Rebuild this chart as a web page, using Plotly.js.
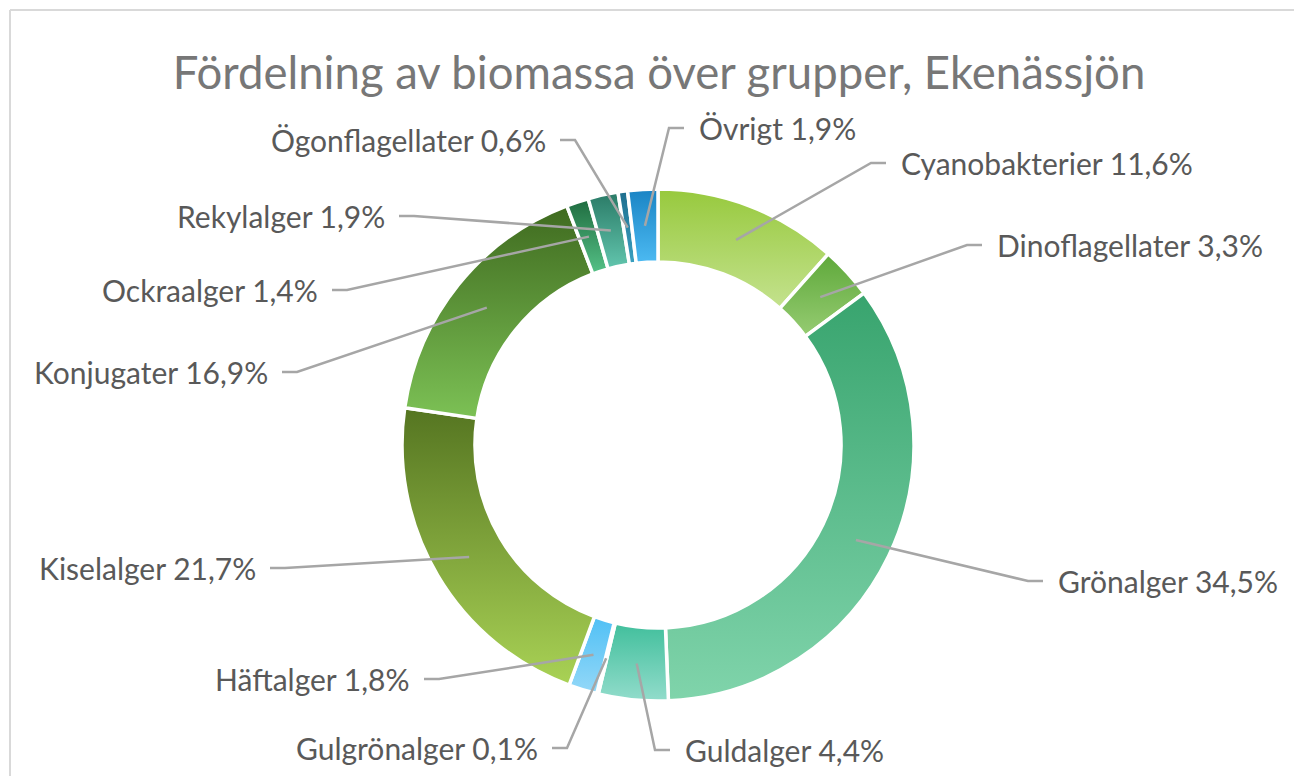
<!DOCTYPE html>
<html>
<head>
<meta charset="utf-8">
<script src="https://cdn.plot.ly/plotly-3.0.1.min.js"></script>
<style>
html,body{margin:0;padding:0;background:#ffffff;}
#chart{width:1294px;height:776px;}
</style>
</head>
<body>
<div id="chart"></div>
<script>
// ---- data ----
const categories = ["Cyanobakterier","Dinoflagellater","Grönalger","Guldalger","Gulgrönalger","Häftalger","Kiselalger","Konjugater","Ockraalger","Rekylalger","Ögonflagellater","Övrigt"];
const values = [11.6, 3.3, 34.5, 4.4, 0.1, 1.8, 21.7, 16.9, 1.4, 1.9, 0.6, 1.9];

// ---- styles ----
const topColors    = ["#97c93d","#5ea83a","#38a46e","#41bf9c","#6ab04a","#50c0f5","#557521","#3f6a1f","#1f6b3f","#2a7a66","#1e6e8e","#1a84c4"];
const bottomColors = ["#c4e28e","#96cc72","#80d4ab","#92dccb","#a0d080","#94d8f8","#a9d255","#7cc155","#55c287","#62c6ae","#3aa0c0","#4cbaf2"];
const midColors    = ["#aed566","#7aba56","#5cbc8c","#6acdb4","#85c065","#72ccf6","#80a43b","#5d953a","#3a9663","#46a08a","#2c87a7","#33a0db"];

// ---- label layout (pixel positions of label anchors) ----
const labelX    = [899, 995, 1056, 683, 540, 412, 258, 270, 320, 387, 548, 697];
const labelY    = [163, 245, 581, 750, 748, 679, 568, 372, 290, 216, 140, 128];
const labelSide = ["R","R","R","R","L","L","L","L","L","L","L","R"];

// ---- geometry ----
const W = 1294, H = 776;
const CX = 658, CY = 445, R = 256, HOLE = 0.715;

const fmt = v => v.toFixed(1).replace('.', ',') + '%';
const px = x => x / W;
const py = y => 1 - y / H;

const total = values.reduce((a, b) => a + b, 0);
const rMid = R * (1 + HOLE) / 2;

const shapes = [];
const annotations = [];
let cum = 0;
values.forEach((v, i) => {
  const a = 2 * Math.PI * (cum + v / 2) / total;
  cum += v;
  const tx = CX + rMid * Math.sin(a);
  const ty = CY - rMid * Math.cos(a);
  const right = labelSide[i] === "R";
  const endX = right ? labelX[i] - 13 : labelX[i] + 12;
  const elbX = right ? endX - 15 : endX + 15;
  const ly = labelY[i];
  shapes.push({
    type: 'path', xref: 'paper', yref: 'paper', layer: 'above',
    path: `M${px(tx)},${py(ty)} L${px(elbX)},${py(ly)} L${px(endX)},${py(ly)}`,
    line: {color: '#a6a6a6', width: 2.5}
  });
  annotations.push({
    xref: 'paper', yref: 'paper', x: px(labelX[i]), y: py(ly),
    xanchor: right ? 'left' : 'right', yanchor: 'middle',
    showarrow: false, text: categories[i] + ' ' + fmt(v),
    font: {family: 'Lato, sans-serif', size: 30, color: '#595959'}
  });
});

// chart frame
shapes.push({type:'line', xref:'paper', yref:'paper', x0: px(10), x1: px(10), y0: py(10), y1: 0, line:{color:'#d9d9d9', width:2}, layer:'below'});
shapes.push({type:'line', xref:'paper', yref:'paper', x0: px(10), x1: 1, y0: py(10), y1: py(10), line:{color:'#d9d9d9', width:2}, layer:'below'});

const data = [{
  type: 'pie',
  labels: categories,
  values: values,
  sort: false,
  direction: 'clockwise',
  rotation: 0,
  hole: HOLE,
  textinfo: 'none',
  hoverinfo: 'skip',
  marker: {colors: midColors, line: {color: '#ffffff', width: 3.5}},
  domain: {x: [px(CX - R), px(CX + R)], y: [py(CY + R), py(CY - R)]},
  showlegend: false
}];

const layout = {
  width: W, height: H,
  margin: {l: 0, r: 0, t: 0, b: 0},
  paper_bgcolor: '#ffffff',
  plot_bgcolor: '#ffffff',
  showlegend: false,
  title: {
    text: 'Fördelning av biomassa över grupper, Ekenässjön',
    x: px(659), xanchor: 'center', xref: 'paper',
    y: py(73), yanchor: 'middle', yref: 'container',
    font: {family: 'Lato, sans-serif', size: 45.5, color: '#777777'}
  },
  shapes: shapes,
  annotations: annotations
};

Plotly.newPlot('chart', data, layout, {staticPlot: true, displayModeBar: false}).then(gd => {
  const ns = 'http://www.w3.org/2000/svg';
  const svg = gd.querySelector('svg.main-svg');
  let defs = svg.querySelector('defs');
  if (!defs) { defs = document.createElementNS(ns, 'defs'); svg.insertBefore(defs, svg.firstChild); }
  topColors.forEach((c, i) => {
    const g = document.createElementNS(ns, 'linearGradient');
    g.setAttribute('id', 'sliceGrad' + i);
    g.setAttribute('x1', '0'); g.setAttribute('y1', '0');
    g.setAttribute('x2', '0'); g.setAttribute('y2', '1');
    const s1 = document.createElementNS(ns, 'stop');
    s1.setAttribute('offset', '0'); s1.setAttribute('stop-color', c);
    const s2 = document.createElementNS(ns, 'stop');
    s2.setAttribute('offset', '1'); s2.setAttribute('stop-color', bottomColors[i]);
    g.appendChild(s1); g.appendChild(s2);
    defs.appendChild(g);
  });
  gd.querySelectorAll('g.slice').forEach((sl, k) => {
    const d = sl.__data__;
    const idx = (d && typeof d.i === 'number') ? d.i : k;
    const p = sl.querySelector('path.surface');
    if (p) p.style.fill = 'url(#sliceGrad' + idx + ')';
  });
});
</script>
</body>
</html>
